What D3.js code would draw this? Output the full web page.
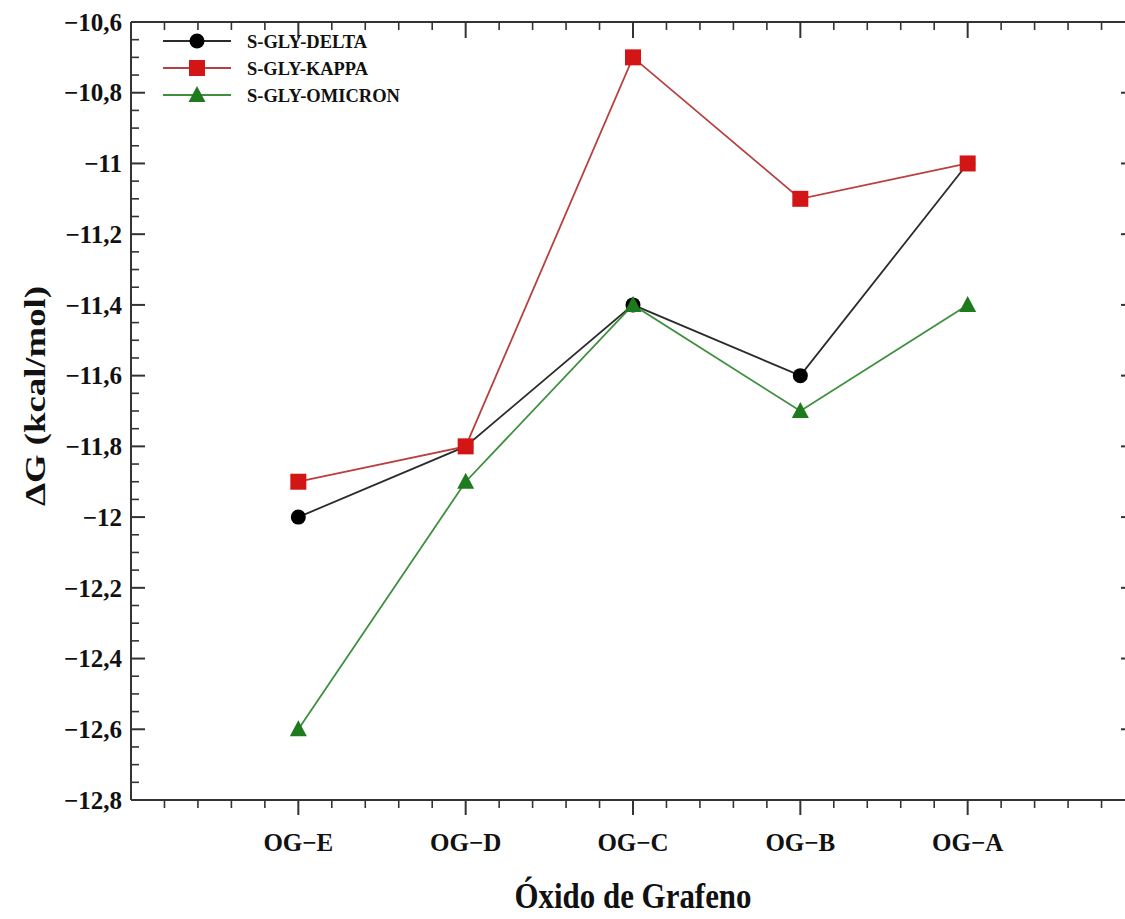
<!DOCTYPE html>
<html>
<head>
<meta charset="utf-8">
<script src="https://cdn.jsdelivr.net/npm/d3@7/dist/d3.min.js"></script>
<style>
  html, body { margin: 0; padding: 0; background: #ffffff; }
  svg { display: block; }
</style>
</head>
<body>
<svg id="chart" width="1125" height="919"></svg>
<script>
// Categories (graphene oxide samples) and binding free energies, kcal/mol
const categories = ["OG\u2212E", "OG\u2212D", "OG\u2212C", "OG\u2212B", "OG\u2212A"];
const delta   = [-12.0, -11.8, -11.4, -11.6, -11.0];
const kappa   = [-11.9, -11.8, -10.7, -11.1, -11.0];
const omicron = [-12.6, -11.9, -11.4, -11.7, -11.4];
const seriesNames = ["S-GLY-DELTA", "S-GLY-KAPPA", "S-GLY-OMICRON"];
const yTicks = [-10.6, -10.8, -11.0, -11.2, -11.4, -11.6, -11.8, -12.0, -12.2, -12.4, -12.6, -12.8];

const series = [
  { name: seriesNames[0], values: delta,   line: "#2b2b2b", fill: "#000000", shape: "circle",   labelW: 120 },
  { name: seriesNames[1], values: kappa,   line: "#b84040", fill: "#d41515", shape: "square",   labelW: 121 },
  { name: seriesNames[2], values: omicron, line: "#3f8f3f", fill: "#1e7a1e", shape: "triangle", labelW: 153 }
];

const FONT = "'Liberation Serif', 'Times New Roman', Times, serif";
const svg = d3.select("#chart")
  .style("font-family", FONT).style("font-weight", "bold");
const plotL = 131, plotR = 1135, plotT = 22, plotB = 800;

// x: categories sit at 1..5 on a 0..6 axis, minor ticks every 0.2
const x = d3.scaleLinear().domain([0, 6]).range([plotL, plotR]);
const y = d3.scaleLinear().domain([-12.8, -10.6]).range([plotB, plotT]);

const fmt = v => {
  let s = (Math.round(v * 10) / 10).toString();
  if (s.endsWith(".0")) s = s.slice(0, -2);
  return s.replace("-", "\u2212").replace(".", ",");
};

const axisG = svg.append("g").attr("stroke", "#333").attr("stroke-width", 2);

// frame
axisG.append("line").attr("x1", plotL).attr("x2", plotL).attr("y1", plotT).attr("y2", plotB);
axisG.append("line").attr("x1", plotR).attr("x2", plotR).attr("y1", plotT).attr("y2", plotB);
axisG.append("line").attr("x1", plotL).attr("x2", plotR).attr("y1", plotT).attr("y2", plotT);
axisG.append("line").attr("x1", plotL).attr("x2", plotR).attr("y1", plotB).attr("y2", plotB);

// y ticks: majors every 0.2, three minors between
const yMinor = d3.range(0, 45).map(i => -12.8 + i * 0.05).filter(v => v <= -10.6 + 1e-9);
yMinor.forEach((v, i) => {
  const major = i % 4 === 0;
  const len = major ? 14 : 8;
  axisG.append("line").attr("x1", plotL).attr("x2", plotL + len).attr("y1", y(v)).attr("y2", y(v))
    .attr("stroke-width", major ? 2 : 1.6);
  axisG.append("line").attr("x1", plotR).attr("x2", plotR - len).attr("y1", y(v)).attr("y2", y(v))
    .attr("stroke-width", major ? 2 : 1.6);
});

// x ticks: majors at categories, minors every 0.2
const xMinor = d3.range(1, 30).map(i => i * 0.2);
xMinor.forEach(v => {
  const major = Math.abs(v - Math.round(v)) < 1e-6 && Math.round(v) >= 1 && Math.round(v) <= 5;
  const len = major ? 15 : 8;
  axisG.append("line").attr("x1", x(v)).attr("x2", x(v)).attr("y1", plotB).attr("y2", plotB + len)
    .attr("stroke-width", major ? 2 : 1.6);
  axisG.append("line").attr("x1", x(v)).attr("x2", x(v)).attr("y1", plotT).attr("y2", plotT + (major ? 16 : 8))
    .attr("stroke-width", major ? 2 : 1.6);
});

// y tick labels
svg.append("g").attr("fill", "#111").selectAll("text").data(yTicks).join("text")
  .attr("x", plotL - 9).attr("y", d => y(d)).attr("dy", "0.35em")
  .attr("text-anchor", "end").attr("font-size", 25)
  .text(d => fmt(d));

// x tick labels
svg.append("g").attr("fill", "#111").selectAll("text").data(categories).join("text")
  .attr("x", (d, i) => x(i + 1)).attr("y", 851)
  .attr("text-anchor", "middle").attr("font-size", 25)
  .text(d => d);

// axis titles
svg.append("text").attr("fill", "#111").attr("x", 633).attr("y", 908).attr("text-anchor", "middle")
  .attr("font-size", 35).attr("textLength", 237).attr("lengthAdjust", "spacingAndGlyphs")
  .text("\u00D3xido de Grafeno");
svg.append("text").attr("fill", "#111").attr("transform", "translate(45,396) rotate(-90)")
  .attr("text-anchor", "middle").attr("font-size", 29)
  .attr("textLength", 220).attr("lengthAdjust", "spacingAndGlyphs")
  .text("\u0394G (kcal/mol)");

function drawMarker(g, shape, cx, cy, fill) {
  if (shape === "circle") {
    g.append("circle").attr("cx", cx).attr("cy", cy).attr("r", 7.5).attr("fill", fill);
  } else if (shape === "square") {
    g.append("rect").attr("x", cx - 8).attr("y", cy - 8).attr("width", 16).attr("height", 16).attr("fill", fill);
  } else {
    g.append("path").attr("d", `M${cx},${cy - 9} L${cx + 8.5},${cy + 7} L${cx - 8.5},${cy + 7} Z`).attr("fill", fill);
  }
}

const lineGen = d3.line().x((d, i) => x(i + 1)).y(d => y(d));

// lines first, then markers: delta under omicron, kappa on top
const drawOrder = [series[0], series[2], series[1]];
drawOrder.forEach(s => {
  svg.append("path").datum(s.values).attr("d", lineGen)
    .attr("fill", "none").attr("stroke", s.line).attr("stroke-width", 1.8);
});
drawOrder.forEach(s => {
  const g = svg.append("g");
  s.values.forEach((v, i) => drawMarker(g, s.shape, x(i + 1), y(v), s.fill));
});

// legend
const legend = svg.append("g");
series.forEach((s, i) => {
  const ly = 41 + i * 27;
  legend.append("line").attr("x1", 163).attr("x2", 231).attr("y1", ly).attr("y2", ly)
    .attr("stroke", s.line).attr("stroke-width", 1.8);
  drawMarker(legend, s.shape, 197, ly, s.fill);
  legend.append("text").attr("fill", "#111").attr("x", 247).attr("y", ly).attr("dy", "0.35em")
    .attr("font-size", 19).attr("textLength", s.labelW).attr("lengthAdjust", "spacingAndGlyphs")
    .text(s.name);
});
</script>
</body>
</html>
